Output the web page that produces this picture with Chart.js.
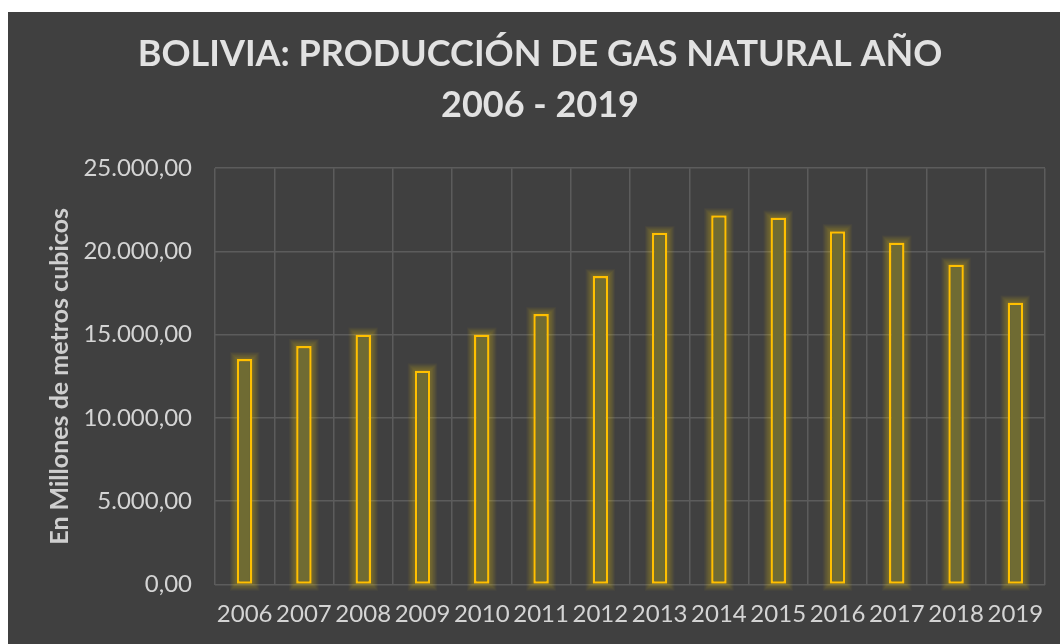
<!DOCTYPE html>
<html>
<head>
<meta charset="utf-8">
<script src="https://cdn.jsdelivr.net/npm/chart.js@4.4.0/dist/chart.umd.min.js"></script>
<style>
  html, body { margin: 0; padding: 0; background: #ffffff; }
  #wrap { position: absolute; left: 8px; top: 12px; width: 1052px; height: 632px; background: #404040; }
  canvas { display: block; }
</style>
</head>
<body>
<div id="wrap"><canvas id="c" width="1052" height="632"></canvas></div>
<script>
const years = ['2006','2007','2008','2009','2010','2011','2012','2013','2014','2015','2016','2017','2018','2019'];
const production = [13540, 14330, 15020, 12860, 15010, 16240, 18530, 21120, 22180, 22040, 21220, 20540, 19220, 16940];
const titleLines = ['BOLIVIA: PRODUCCIÓN DE GAS NATURAL AÑO', '2006 - 2019'];
const yAxisTitle = 'En Millones de metros cubicos';
const yTickValues = [0, 5000, 10000, 15000, 20000, 25000];

function fmt(v) {
  const s = Math.round(v).toString();
  const grouped = s.replace(/\B(?=(\d{3})+(?!\d))/g, '.');
  return grouped + ',00';
}

// soft yellow halo around each bar, drawn from the bar elements' own positions
const glow = {
  id: 'glow',
  beforeDatasetsDraw(chart) {
    const ctx = chart.ctx;
    const meta = chart.getDatasetMeta(0);
    ctx.save();
    meta.data.forEach(bar => {
      const p = bar.getProps(['x', 'y', 'base', 'width'], true);
      const left = p.x - p.width / 2, top = Math.min(p.y, p.base);
      const h = Math.abs(p.base - p.y);
      for (let i = 1; i <= 7; i++) {
        ctx.strokeStyle = 'rgba(255, 215, 0, ' + (0.32 * (1 - i / 8)).toFixed(3) + ')';
        ctx.lineWidth = 1;
        ctx.strokeRect(left - i + 0.5, top - i + 0.5, p.width + 2 * i - 1, h + 2 * i - 1);
      }
    });
    ctx.restore();
  }
};

Chart.defaults.font.family = 'Lato, "Open Sans", sans-serif';

new Chart(document.getElementById('c'), {
  type: 'bar',
  data: {
    labels: years,
    datasets: [{
      data: production,
      backgroundColor: '#6f6b33',
      borderColor: '#ffc000',
      borderWidth: 2.5,
      borderSkipped: false,
      categoryPercentage: 1,
      barPercentage: 0.263
    }]
  },
  options: {
    responsive: false,
    animation: false,
    layout: { padding: { top: 0, right: 0, left: 12, bottom: 0 } },
    plugins: {
      legend: { display: false },
      tooltip: { enabled: false },
      title: {
        display: true,
        text: titleLines,
        color: '#e2e2e2',
        font: { size: 36, weight: 'bold', lineHeight: 1.42 },
        padding: { top: 17, bottom: 37 }
      }
    },
    scales: {
      x: {
        grid: { color: '#5c5c5c', lineWidth: 1.5, drawTicks: false, offset: true },
        border: { display: false },
        ticks: { color: '#d4d4d4', font: { size: 24 }, padding: 15, maxRotation: 0, autoSkip: false },
        afterFit(scale) { scale.height = 59.5; }
      },
      y: {
        min: 0, max: 25000,
        afterBuildTicks(scale) { scale.ticks = yTickValues.map(v => ({ value: v })); },
        grid: { color: '#5c5c5c', lineWidth: 1.5, drawTicks: false },
        border: { display: false },
        ticks: { color: '#d4d4d4', font: { size: 24 }, padding: 23, callback: (v) => fmt(v) },
        title: { display: true, text: yAxisTitle, color: '#cfcfcf', font: { size: 25, weight: 'bold' }, padding: { top: 25 } },
        afterFit(scale) { scale.width = 195; }
      },
      yr: {
        position: 'right',
        min: 0, max: 25000,
        grid: { display: false, drawTicks: false },
        border: { display: false },
        ticks: { display: false },
        afterFit(scale) { scale.width = 15; }
      }
    }
  },
  plugins: [glow]
});
</script>
</body>
</html>
